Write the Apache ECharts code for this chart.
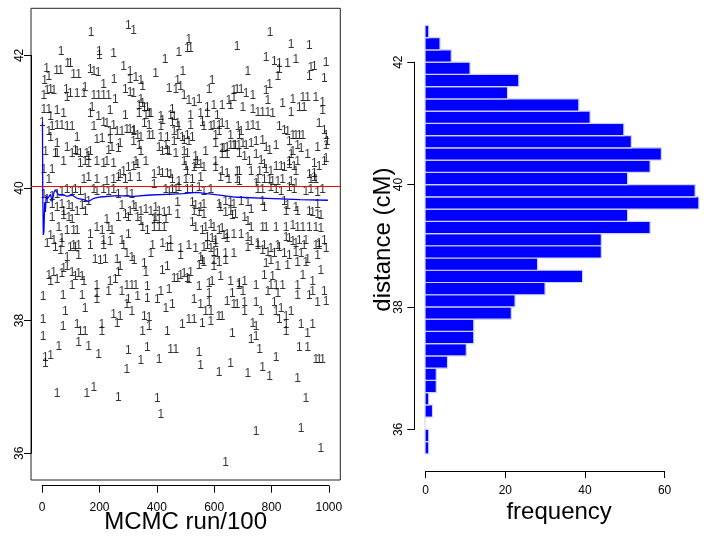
<!DOCTYPE html>
<html>
<head>
<meta charset="utf-8">
<script src="https://cdn.jsdelivr.net/npm/echarts@6/dist/echarts.min.js"></script>
<style>html,body{margin:0;padding:0;background:#fff}#c{width:704px;height:539px}</style>
</head>
<body>
<div id="c"></div>
<script>
// ---- data ----
// MCMC trace: [run/100, distance cM]
const tracePoints = [
[1,40.97],[171,42.34],[301,42.44],[319,42.37],[66,42.05],[199,42.05],[199,41.99],[249,42.01],[15,41.79],[8,41.6],[50,41.76],[64,41.76],[89,41.86],[98,41.86],[110,41.7],[127,41.7],[168,41.77],[180,41.75],[195,41.73],[214,41.55],[251,41.62],[284,41.82],[307,41.75],[307,41.62],[23,41.67],
[6,41.37],[17,41.45],[29,41.47],[41,41.45],[84,41.47],[87,41.35],[98,41.4],[122,41.4],[145,41.4],[150,41.5],[180,41.37],[197,41.37],[214,41.37],[232,41.37],[255,41.32],[290,41.47],[307,41.42],[319,41.4],
[6,41.17],[23,41.17],[29,41.05],[52,41.15],[75,41.1],[174,41.2],[168,41.1],[197,41.05],[214,40.97],[237,41.15],[290,41.07],
[23,40.82],[35,40.9],[52,40.92],[69,40.92],[87,40.9],[104,40.9],[180,40.9],[226,40.95],[249,40.92],[237,40.82],[261,40.82],[278,40.82],[295,40.85],[307,40.85],[319,40.82],
[29,40.74],[52,40.64],[122,40.74],[191,40.7],[209,40.72],[237,40.7],[272,40.64],[319,40.67],[12,40.52],[46,40.49],[52,40.49],[87,40.59],[104,40.49],[116,40.54],[122,40.52],[133,40.49],[156,40.49],[168,40.52],[162,40.44],[232,40.54],[243,40.59],[266,40.57],
[75,40.37],[133,40.34],[150,40.37],[162,40.34],[191,40.37],[214,40.34],[226,40.37],[249,40.34],[6,40.24],[35,40.24],[284,40.22],[301,40.27],[319,40.29],
[23,40.09],[145,40.09],[162,40.12],[191,40.09],[226,40.07],[249,40.09],[266,40.12],[272,40.17],[290,40.09],[307,40.12],
[6,39.86],[17,39.79],[35,39.84],[52,39.86],[69,39.91],[87,39.94],[104,39.91],[116,39.94],[133,39.91],[150,39.81],[162,39.76],[180,39.94],[191,39.91],
[214,39.94],[232,39.91],[249,39.94],[266,39.86],[295,39.89],[313,39.86],[35,39.71],[52,39.66],[69,39.71],[75,39.61],[93,39.69],[104,39.66],[122,39.61],[139,39.69],[151,39.61],[278,39.69],[290,39.56],[307,39.61],[319,39.69],
[35,39.51],[75,39.54],[93,39.51],[104,39.49],[226,39.49],[266,39.51],[301,39.51],[29,39.24],[58,39.36],[87,39.31],[110,39.31],[122,39.31],[168,39.26],[191,39.36],[209,39.31],[232,39.36],[243,39.31],[301,39.26],
[17,39.11],[41,39.16],[69,39.19],[110,39.09],[127,39.09],[168,39.09],[214,39.16],[237,39.14],[278,39.16],
[512,42.23],[506,42.1],[518,42.1],[429,41.92],[477,42.03],[680,42.13],[396,41.71],[491,41.75],[327,41.65],[344,41.6],[350,41.52],[443,41.48],[466,41.47],[472,41.6],[483,41.52],[495,41.37],[582,41.47],[593,41.6],[669,41.45],[680,41.47],
[344,41.32],[350,41.25],[338,41.22],[356,41.2],[367,41.2],[373,41.1],[379,41.1],[338,41.1],[362,41.07],[414,41.05],[420,41.0],[454,41.17],[460,41.05],[448,41.07],[512,41.3],[530,41.27],[547,41.32],[518,41.07],[576,41.2],[599,41.22],[628,41.22],[657,41.22],[553,41.1],[576,41.1],[611,41.07],[651,41.3],[669,41.35],
[356,40.95],[373,40.92],[414,40.9],[454,40.97],[472,40.95],[477,40.9],[518,40.92],[559,40.97],[564,40.9],[588,40.9],[599,40.92],[617,40.92],[628,40.95],[645,40.92],
[321,40.84],[333,40.77],[344,40.74],[373,40.77],[385,40.77],[414,40.74],[437,40.74],[460,40.82],[472,40.77],[489,40.74],[506,40.77],[524,40.74],[605,40.77],[617,40.82],[657,40.77],[674,40.62],
[338,40.62],[344,40.52],[408,40.59],[431,40.62],[437,40.54],[460,40.67],[495,40.69],[512,40.67],[605,40.64],[628,40.57],[645,40.59],[657,40.62],[669,40.62],[686,40.62],
[327,40.37],[333,40.32],[362,40.37],[419,40.52],[443,40.52],[466,40.49],[495,40.52],[506,40.49],[535,40.44],[541,40.37],[553,40.32],[564,40.27],[570,40.52],[605,40.37],[628,40.47],[634,40.57],[645,40.47],
[495,40.37],[501,40.29],[506,40.22],[530,40.27],[535,40.32],[605,40.27],[628,40.22],[645,40.19],[680,40.22],
[338,40.12],[390,40.17],[408,40.22],[419,40.19],[437,40.19],[448,40.17],[454,40.09],[477,40.07],[501,40.09],[524,40.09],[553,40.12],[622,40.12],[651,40.09],[680,40.09],
[390,40.02],[431,39.94],[443,39.91],[454,39.94],[466,39.94],[477,39.97],[506,39.94],[524,39.94],[547,39.97],[564,39.91],[588,39.94],
[327,39.66],[344,39.61],[362,39.64],[379,39.61],[396,39.66],[408,39.61],[425,39.59],[443,39.61],[472,39.74],[524,39.74],[535,39.69],[553,39.66],[564,39.71],[617,39.71],[640,39.76],[657,39.74],[669,39.71],
[333,39.51],[344,39.46],[390,39.49],[408,39.49],[431,39.49],[472,39.56],[530,39.61],[547,39.59],[564,39.56],[622,39.66],[640,39.59],[657,39.61],[663,39.54],[674,39.56],
[350,39.36],[367,39.31],[390,39.36],[396,39.51],[408,39.36],[425,39.36],[524,39.44],[535,39.36],[559,39.31],[570,39.36],[588,39.41],[599,39.36],[617,39.31],[628,39.34],[645,39.26],
[420,39.11],[448,39.16],[576,39.21],[593,39.19],[605,39.16],[634,39.24],[645,39.19],[669,39.26],
[795,42.34],[868,42.16],[932,42.14],[781,41.95],[810,41.9],[827,41.87],[856,41.87],[885,41.93],[990,41.88],[827,41.77],[822,41.67],[717,41.75],[937,41.8],[949,41.82],[932,41.67],[984,41.63],[793,41.55],[781,41.45],
[694,41.47],[711,41.4],[735,41.37],[787,41.3],[839,41.25],[874,41.32],[909,41.35],[926,41.35],[955,41.35],[978,41.27],
[700,41.2],[735,41.17],[752,41.12],[769,41.12],[787,41.12],[804,41.1],[868,41.12],[897,41.2],[914,41.2],[978,41.15],
[683,40.9],[694,40.82],[717,40.9],[735,40.92],[752,40.9],[827,40.9],[845,40.84],[856,40.82],[874,40.77],[885,40.77],[897,40.77],[909,40.77],[966,40.95],[984,40.84],[990,40.77],
[688,40.77],[700,40.64],[711,40.62],[729,40.64],[746,40.67],[769,40.69],[781,40.59],[793,40.54],[816,40.62],[862,40.67],[874,40.52],[891,40.62],[903,40.57],[926,40.47],[961,40.59],[990,40.62],[995,40.67],
[688,40.49],[706,40.44],[723,40.37],[746,40.47],[764,40.39],[775,40.32],[862,40.37],[879,40.29],[891,40.37],[868,40.47],[949,40.34],[966,40.29],[984,40.37],[990,40.42],
[688,40.22],[729,40.22],[758,40.22],[781,40.24],[798,40.22],[816,40.29],[833,40.29],[845,40.27],[862,40.32],[885,40.22],[932,40.17],[949,40.19],[955,40.09],
[688,40.07],[746,40.04],[752,40.09],[775,40.09],[793,40.09],[804,40.07],[822,40.07],[839,40.09],[868,40.07],[885,40.04],[937,40.09],[949,40.12],
[752,39.94],[769,39.94],[798,39.97],[816,39.94],[833,39.91],[862,39.97],[879,39.94],[920,39.91],[937,39.94],[961,39.89],[978,39.94],
[694,39.76],[717,39.74],[729,39.64],[769,39.76],[775,39.66],[845,39.76],[856,39.69],[851,39.61],[885,39.66],[891,39.61],[932,39.61],[943,39.59],[961,39.71],[961,39.56],[972,39.54],
[706,39.51],[717,39.46],[729,39.36],[769,39.36],[781,39.36],[816,39.36],[851,39.36],[874,39.39],[891,39.36],[909,39.36],[932,39.36],[955,39.36],[972,39.34],
[694,39.26],[717,39.21],[729,39.14],[851,39.21],[862,39.19],[874,39.14],[897,39.16],[920,39.16],[984,39.16],[752,39.11],[775,39.09],[822,39.09],[885,39.11],[955,39.09],[966,39.11],
[46,39.06],[64,39.01],[69,39.11],[98,39.06],[116,39.06],[127,38.94],[214,39.09],[284,39.09],[295,38.96],[313,38.91],[87,38.91],[185,38.88],[203,38.86],[220,38.88],[261,38.88],[272,38.76],
[23,38.63],[29,38.53],[40,38.68],[52,38.56],[69,38.66],[75,38.73],[87,38.76],[104,38.68],[104,38.48],[116,38.61],[127,38.66],[139,38.61],[145,38.53],
[191,38.48],[191,38.36],[232,38.38],[237,38.53],[255,38.56],[266,38.68],[278,38.38],[295,38.48],[313,38.48],
[3,38.31],[73,38.33],[139,38.33],[191,38.26],[301,38.26],[295,38.18],[313,38.08],[81,38.08],[150,38.13],[249,38.03],[272,38.0],[261,37.9],
[3,37.95],[3,37.7],[73,37.85],[122,37.88],[133,37.78],[150,37.78],[208,37.88],[208,37.78],[58,37.55],[127,37.6],[162,37.55],[197,37.43],[301,37.48],[295,37.2],
[11,37.38],[11,37.28],[29,37.4],[52,36.83],[156,36.83],[180,36.92],[266,36.77],
[385,39.09],[379,38.96],[437,39.06],[448,39.06],[483,38.94],[483,39.04],[512,39.09],[535,39.04],[553,38.91],[564,39.06],[576,39.09],[588,39.04],[599,38.98],[605,39.11],[611,38.96],[640,38.96],[669,38.96],
[321,38.86],[356,38.81],[362,38.68],[419,38.71],[437,38.76],[460,38.58],[472,38.58],[483,38.63],[495,38.66],[506,38.58],[512,38.56],[518,38.68],
[547,38.78],[559,38.86],[564,38.83],[599,38.76],[599,38.86],[617,38.83],[640,38.86],
[327,38.48],[367,38.46],[333,38.31],[367,38.28],[402,38.26],[414,38.38],[443,38.41],[547,38.46],[582,38.51],[593,38.53],[622,38.61],[582,38.36],[657,38.53],[663,38.36],[686,38.48],
[431,38.13],[454,38.18],[530,38.26],[553,38.18],[570,38.08],[582,38.21],[588,38.08],[645,38.23],[669,38.18],[680,38.18],
[356,38.0],[373,37.98],[350,37.78],[373,37.85],[437,37.78],[489,37.88],[512,37.95],[530,37.95],[559,37.9],[588,37.93],[616,38.0],[628,38.0],[663,37.75],
[367,37.53],[448,37.5],[466,37.5],[547,37.45],[344,37.33],[408,37.35],[553,37.25],[617,37.15],[657,37.28],[402,36.75],[414,36.5],[640,35.78],
[717,39.06],[752,39.09],[769,39.01],[787,38.98],[798,39.04],[810,38.96],[827,39.06],[845,38.96],[862,38.94],[885,38.98],[903,38.96],[914,39.09],[926,38.88],[961,38.94],[966,39.09],[990,39.04],
[781,38.81],[798,38.86],[822,38.76],[856,38.78],[891,38.83],[920,38.83],[972,38.71],
[688,38.51],[706,38.53],[700,38.38],[746,38.48],[775,38.63],[787,38.38],[798,38.48],[804,38.61],[816,38.48],[822,38.36],[839,38.48],
[891,38.48],[891,38.33],[909,38.63],[932,38.33],[943,38.38],[943,38.53],[984,38.38],[961,38.21],[990,38.23],
[706,38.21],[706,38.08],[746,38.21],[764,38.08],[810,38.21],[816,38.08],[833,38.13],[827,37.95],[851,38.0],[868,38.08],
[735,37.9],[746,37.85],[729,37.65],[746,37.7],[851,37.88],[851,37.78],[903,37.88],[926,37.75],[943,37.88],
[758,37.5],[816,37.38],[897,37.53],[926,37.53],[955,37.35],[966,37.35],[978,37.35],[717,37.13],[769,37.23],[793,37.08],[891,37.05],
[920,36.75],[746,36.25],[903,36.3],[972,35.99]
];
// running mean of the chain (blue line)
const runningMean = [
[1,40.97],[2,39.9],[4,39.25],[6,39.3],[9,39.75],[11,39.6],[14,39.85],[18,39.8],[23,39.78],[29,39.87],[35,39.76],[41,39.9],[46,39.94],[52,39.96],[58,39.86],[64,39.89],[75,39.86],[87,39.84],[104,39.86],[122,39.81],[145,39.79],[162,39.76],[180,39.81],[203,39.83],[261,39.85],[319,39.84],[377,39.86],[435,39.87],[493,39.88],[539,39.9],[597,39.87],[667,39.83],[783,39.81],[899,39.79],[997,39.78]
];
const trueDistance = 40;
const traceTicks = [0, 200, 400, 600, 800, 1000];
const distanceTicks = [36, 38, 40, 42];
const freqTicks = [0, 20, 40, 60];
// histogram of distance (bin lower/upper edges in cM) and frequencies
const binLower = [35.6,35.8,36.0,36.2,36.4,36.6,36.8,37.0,37.2,37.4,37.6,37.8,38.0,38.2,38.4,38.6,38.8,39.0,39.2,39.4,39.6,39.8,40.0,40.2,40.4,40.6,40.8,41.0,41.2,41.4,41.6,41.8,42.0,42.2,42.4];
const binUpper = [35.8,36.0,36.2,36.4,36.6,36.8,37.0,37.2,37.4,37.6,37.8,38.0,38.2,38.4,38.6,38.8,39.0,39.2,39.4,39.6,39.8,40.0,40.2,40.4,40.6,40.8,41.0,41.2,41.4,41.6,41.8,42.0,42.2,42.4,42.6];
const binCount = [1,1,0,2,1,3,3,6,11,13,13,23,24,32,42,30,47,47,60,54,73,72,54,60,63,55,53,44,41,22,25,12,7,4,1];

// ---- layout ----
const FONT = "'Liberation Sans', Arial, Helvetica, sans-serif";
const L = {left: 31, top: 8.3, width: 309.3, height: 477.4, xMin: -38.96, xMax: 1039.96, yMin: 35.51, yMax: 42.71};
const R = {left: 414.3, top: 8.3, width: 307.5, height: 462.7, xMin: -2.86, xMax: 74.36, yMin: 35.32, yMax: 42.88};
function subX(g, a, b) {
  const s = g.width / (g.xMax - g.xMin);
  return {left: g.left + (a - g.xMin) * s, top: g.top, width: (b - a) * s, height: g.height};
}
function subY(g, a, b) {
  const s = g.height / (g.yMax - g.yMin);
  return {left: g.left, top: g.top + (g.yMax - b) * s, width: g.width, height: (b - a) * s};
}
const gLX = subX(L, traceTicks[0], traceTicks[traceTicks.length - 1]);
const gLY = subY(L, distanceTicks[0], distanceTicks[distanceTicks.length - 1]);
const gRX = subX(R, freqTicks[0], freqTicks[freqTicks.length - 1]);
const gRY = subY(R, distanceTicks[0], distanceTicks[distanceTicks.length - 1]);

const axLine = {show: true, lineStyle: {color: '#000', width: 1}};
const axTick = {show: true, inside: false, length: 7, lineStyle: {color: '#000', width: 1}};
const lbl = (m, rot) => ({show: true, color: '#000', fontSize: 12, fontFamily: FONT, margin: m, rotate: rot || 0, formatter: v => String(v)});
const hidden = {axisLine: {show: false}, axisTick: {show: false}, axisLabel: {show: false}, splitLine: {show: false}};
const nameStyle = {color: '#000', fontSize: 24, fontFamily: FONT};

const chart = echarts.init(document.getElementById('c'), null, {renderer: 'canvas'});
chart.setOption({
  animation: false,
  backgroundColor: '#fff',
  textStyle: {fontFamily: FONT},
  grid: [
    {show: true, borderColor: '#222', borderWidth: 1, backgroundColor: 'transparent', left: L.left, top: L.top, width: L.width, height: L.height},
    {left: R.left, top: R.top, width: R.width, height: R.height},
    gLX, gLY, gRX, gRY
  ],
  xAxis: [
    Object.assign({type: 'value', gridIndex: 0, min: L.xMin, max: L.xMax, name: 'MCMC run/100', nameLocation: 'middle', nameGap: 30, nameTextStyle: nameStyle}, hidden),
    Object.assign({type: 'value', gridIndex: 1, min: R.xMin, max: R.xMax, name: 'frequency', nameLocation: 'middle', nameGap: 29, nameTextStyle: nameStyle}, hidden),
    {type: 'value', gridIndex: 2, min: 0, max: 1000, interval: 200, axisLine: axLine, axisTick: axTick, axisLabel: lbl(16), splitLine: {show: false}},
    Object.assign({type: 'value', gridIndex: 3, min: 0, max: 1}, hidden, {show: false}),
    {type: 'value', gridIndex: 4, min: 0, max: 60, interval: 20, axisLine: axLine, axisTick: axTick, axisLabel: lbl(14), splitLine: {show: false}},
    Object.assign({type: 'value', gridIndex: 5, min: 0, max: 1}, hidden, {show: false})
  ],
  yAxis: [
    Object.assign({type: 'value', gridIndex: 0, min: L.yMin, max: L.yMax}, hidden),
    Object.assign({type: 'value', gridIndex: 1, min: R.yMin, max: R.yMax, name: 'distance (cM)', nameLocation: 'middle', nameGap: 19, nameTextStyle: nameStyle}, hidden),
    Object.assign({type: 'value', gridIndex: 2, min: 0, max: 1}, hidden, {show: false}),
    {type: 'value', gridIndex: 3, min: 36, max: 42, interval: 2, axisLine: axLine, axisTick: axTick, axisLabel: lbl(5, 90), splitLine: {show: false}},
    Object.assign({type: 'value', gridIndex: 4, min: 0, max: 1}, hidden, {show: false}),
    {type: 'value', gridIndex: 5, min: 36, max: 42, interval: 2, axisLine: axLine, axisTick: axTick, axisLabel: lbl(10, 90), splitLine: {show: false}}
  ],
  series: [
    {
      type: 'scatter', xAxisIndex: 0, yAxisIndex: 0, data: tracePoints, silent: true, z: 2,
      symbol: 'circle', symbolSize: 1, itemStyle: {color: 'rgba(0,0,0,0)'},
      label: {show: true, position: 'inside', formatter: '1', color: '#000', fontSize: 12, fontFamily: FONT}
    },
    {
      type: 'line', xAxisIndex: 0, yAxisIndex: 0, data: runningMean, showSymbol: false, silent: true, z: 4,
      color: '#0000ff',
      lineStyle: {color: '#0000ff', width: 1.3},
      markLine: {
        silent: true, symbol: ['none', 'none'], label: {show: false},
        itemStyle: {color: '#ff0000'},
        lineStyle: {color: '#ff0000', width: 1, type: 'solid', opacity: 1},
        emphasis: {disabled: true},
        data: [{yAxis: trueDistance, lineStyle: {color: '#ff0000', width: 1, type: 'solid'}}]
      }
    },
    {
      type: 'custom', xAxisIndex: 1, yAxisIndex: 1, silent: true,
      data: binLower.map((lo, i) => [lo, binUpper[i], binCount[i]]),
      encode: {x: 2, y: [0, 1]},
      renderItem: function (params, api) {
        const p0 = api.coord([0, api.value(1)]);
        const p1 = api.coord([api.value(2), api.value(0)]);
        return {type: 'rect', shape: {x: p0[0], y: p0[1], width: p1[0] - p0[0], height: p1[1] - p0[1]},
          style: {fill: '#0000ff', stroke: '#d2d2ff', lineWidth: 1.2}};
      }
    }
  ]
});
</script>
</body>
</html>
